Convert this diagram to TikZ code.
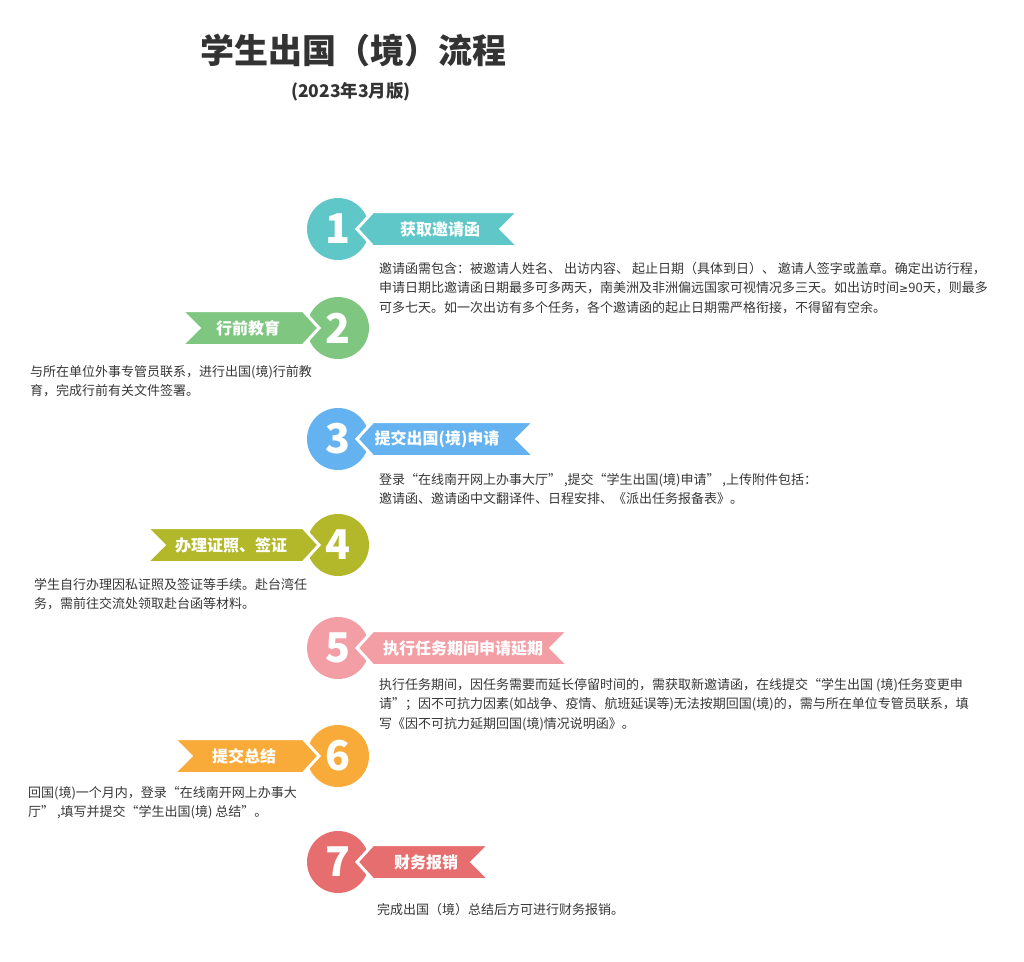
\documentclass[tikz,border=0pt]{standalone}
\usepackage{fontspec}
\setmainfont{Noto Sans CJK SC}
\newfontfamily\symfnt{DejaVu Sans}
\usetikzlibrary{backgrounds}
\definecolor{cA}{RGB}{95,199,200}
\definecolor{cB}{RGB}{127,199,128}
\definecolor{cC}{RGB}{100,178,240}
\definecolor{cD}{RGB}{178,184,42}
\definecolor{cE}{RGB}{243,158,165}
\definecolor{cF}{RGB}{249,171,58}
\definecolor{cG}{RGB}{230,110,110}
\definecolor{txt}{RGB}{55,55,55}
\definecolor{ttl}{RGB}{51,51,51}
\definecolor{linegray}{RGB}{140,140,140}
\newcommand\ribbonR[3]{%
  \fill[rib=#1] (357,#2) -- (373,#2-17.5) -- (#3+1.5,#2-17.5) -- (#3-16,#2) -- (#3+1.5,#2+17.5) -- (373,#2+17.5) -- cycle;}
\newcommand\ribbonL[3]{%
  \fill[rib=#1] (319,#2) -- (303,#2-17.5) -- (#3-1.5,#2-17.5) -- (#3+16,#2) -- (#3-1.5,#2+17.5) -- (303,#2+17.5) -- cycle;}
\begin{document}
\begin{tikzpicture}[x=1pt,y=-1pt,
  num/.style={circle, fill=#1, minimum size=62pt, inner sep=0pt, text=white, font=\bfseries\fontsize{41}{41}\selectfont},
  rib/.style={fill=#1, draw=white, line width=3pt, line join=miter},
  ribtext/.style={text=white, font=\bfseries\fontsize{16}{16}\selectfont, inner sep=0pt},
  body/.style={anchor=north west, align=left, inner sep=0pt, text=txt, font=\fontsize{13}{19.6}\selectfont},
  dashline/.style={draw=linegray, line width=1.8pt, dash pattern=on 6pt off 4pt}]
\useasboundingbox[fill=white] (0,0) rectangle (1024,961);
% title
\node[text=ttl, font=\bfseries\fontsize{34}{34}\selectfont, inner sep=0pt] (title) at (353,51) {学生出国（境）流程};
\node[text=ttl, font=\bfseries\fontsize{17.5}{17.5}\selectfont, inner sep=0pt] (sub) at (351,92) {(2023年3月版)};
% circles
\node[num=cA] (c1) at (338,229) {1};
\node[num=cB] (c2) at (338,328) {2};
\node[num=cC] (c3) at (338,439) {3};
\node[num=cD] (c4) at (338,545) {4};
\node[num=cE] (c5) at (338,648) {5};
\node[num=cF] (c6) at (338,756) {6};
\node[num=cG] (c7) at (338,862) {7};
\begin{scope}[on background layer]
\draw[dashline] (c1) -- (c2);
\draw[dashline] (c2) -- (c3);
\draw[dashline] (c3) -- (c4);
\draw[dashline] (c4) -- (c5);
\draw[dashline] (c5) -- (c6);
\draw[dashline] (c6) -- (c7);
\end{scope}
% ribbons
\ribbonR{cA}{229}{517}
\ribbonL{cB}{328}{183}
\ribbonR{cC}{439}{533}
\ribbonL{cD}{545}{148}
\ribbonR{cE}{648}{567}
\ribbonL{cF}{756}{175}
\ribbonR{cG}{862}{488}
\node[ribtext] (r1) at (440,229) {获取邀请函};
\node[ribtext] (r2) at (248,328) {行前教育};
\node[ribtext] (r3) at (437,439) {提交出国(境)申请};
\node[ribtext] (r4) at (231,545) {办理证照、签证};
\node[ribtext] (r5) at (463,648) {执行任务期间申请延期};
\node[ribtext] (r6) at (244,756) {提交总结};
\node[ribtext] (r7) at (426,862) {财务报销};
% descriptions
\node[body] (t1) at (379,262) {邀请函需包含：被邀请人姓名、 出访内容、 起止日期（具体到日）、 邀请人签字或盖章。确定出访行程，\\申请日期比邀请函日期最多可多两天，南美洲及非洲偏远国家可视情况多三天。如出访时间{\symfnt\fontsize{11}{19.6}\selectfont ≥}90天，则最多\\可多七天。如一次出访有多个任务，各个邀请函的起止日期需严格衔接，不得留有空余。};
\node[body] (t2) at (30,365) {与所在单位外事专管员联系，进行出国(境)行前教\\育，完成行前有关文件签署。};
\node[body] (t3) at (379,473) {登录“在线南开网上办事大厅” ,提交“学生出国(境)申请” ,上传附件包括：\\邀请函、邀请函中文翻译件、日程安排、《派出任务报备表》。};
\node[body] (t4) at (34,578) {学生自行办理因私证照及签证等手续。赴台湾任\\务，需前往交流处领取赴台函等材料。};
\node[body] (t5) at (379,678) {执行任务期间，因任务需要而延长停留时间的，需获取新邀请函，在线提交“学生出国 (境)任务变更申\\请”；因不可抗力因素(如战争、疫情、航班延误等)无法按期回国(境)的，需与所在单位专管员联系，填\\写《因不可抗力延期回国(境)情况说明函》。};
\node[body] (t6) at (28,786) {回国(境)一个月内，登录“在线南开网上办事大\\厅” ,填写并提交“学生出国(境) 总结”。};
\node[body] (t7) at (377,903) {完成出国（境）总结后方可进行财务报销。};
\end{tikzpicture}
\end{document}
